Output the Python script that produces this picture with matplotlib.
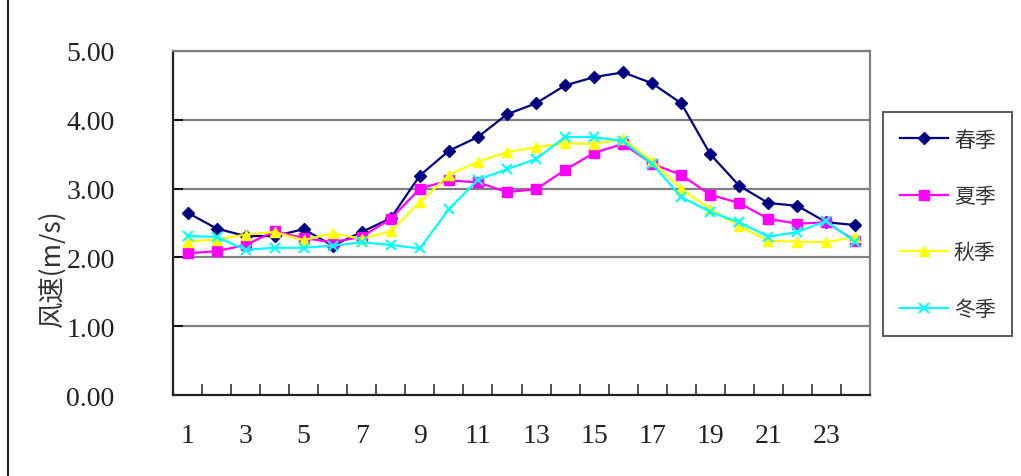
import matplotlib
matplotlib.use("Agg")
import matplotlib.pyplot as plt
import numpy as np
from matplotlib.lines import Line2D

plt.rcParams['font.family'] = ['Liberation Serif', 'Noto Sans CJK SC', 'DejaVu Sans']

# hourly wind speed (m/s) by season
hours = list(range(1, 25))
spring = [2.65, 2.42, 2.31, 2.31, 2.41, 2.17, 2.37, 2.57, 3.19, 3.55, 3.75, 4.08, 4.24, 4.50, 4.62, 4.69,
          4.53, 4.24, 3.50, 3.04, 2.79, 2.75, 2.51, 2.47]
summer = [2.06, 2.09, 2.18, 2.38, 2.28, 2.22, 2.30, 2.56, 3.00, 3.12, 3.09, 2.95, 2.99, 3.27, 3.52, 3.65,
          3.36, 3.20, 2.91, 2.79, 2.56, 2.49, 2.51, 2.24]
autumn = [2.23, 2.26, 2.33, 2.37, 2.25, 2.35, 2.27, 2.38, 2.80, 3.20, 3.39, 3.53, 3.60, 3.66, 3.65, 3.72,
          3.40, 3.00, 2.70, 2.46, 2.24, 2.23, 2.22, 2.30]
winter = [2.31, 2.30, 2.11, 2.14, 2.14, 2.17, 2.22, 2.18, 2.13, 2.70, 3.13, 3.28, 3.43, 3.75, 3.75, 3.69,
          3.36, 2.88, 2.66, 2.51, 2.30, 2.37, 2.53, 2.22]
labels = ["春季", "夏季", "秋季", "冬季"]
yticks = [0, 1, 2, 3, 4, 5]

fig = plt.figure(figsize=(10.21, 4.77), dpi=100)
ax = fig.add_axes([173 / 1021, 1 - 396 / 477, 697 / 1021, 344 / 477])

ax.plot(hours, spring, color="#000080", marker="D", markersize=6, lw=1.6, label=labels[0])
ax.plot(hours, summer, color="#FF00FF", marker="s", markersize=7, lw=1.6, label=labels[1])
ax.plot(hours, autumn, color="#FFFF00", marker="^", markersize=7, lw=1.6, label=labels[2])
ax.plot(hours, winter, color="#00FFFF", marker="x", markersize=7, mew=1.5, lw=1.6, label=labels[3])

ax.set_xlim(0.5, 24.5)
ax.set_ylim(0, 5)

# gridlines
for v in yticks[1:]:
    ax.axhline(v, color="#808080", lw=1.6, zorder=0)

ax.set_yticks(yticks)
ax.set_yticklabels([f"{v:.2f}" for v in yticks])
ax.set_xticks(hours[::2])
ax.set_xticklabels([str(h) for h in hours[::2]])
ax.set_xticks(np.arange(0.5, 25, 1), minor=True)
ax.tick_params(axis="x", which="major", length=0, pad=20, labelsize=20, labelcolor="#222222")
ax.tick_params(axis="x", which="minor", direction="in", length=8, width=1.2, color="#333333")
ax.tick_params(axis="y", direction="in", length=7, width=1.2, pad=42, labelsize=20, labelcolor="#222222")

for s in ["left", "bottom"]:
    ax.spines[s].set_color("#222222")
    ax.spines[s].set_linewidth(1.6)
for s in ["top", "right"]:
    ax.spines[s].set_color("#808080")
    ax.spines[s].set_linewidth(1.6)

fig.text(52 / 1021, 1 - 268 / 477, "风速(m/s)", rotation=90, ha="center", va="center",
         fontsize=19, color="#333333", family=["Noto Sans CJK SC", "DejaVu Sans"])

leg = fig.legend(loc="upper left", bbox_to_anchor=(883 / 1021, 1 - 113 / 477), frameon=True,
                 fancybox=False, edgecolor="#222222", prop={"family": "Noto Sans CJK SC", "size": 15},
                 labelspacing=1.65, handlelength=2.3, handletextpad=0.3, borderpad=0.8, borderaxespad=0)
leg.get_frame().set_linewidth(1.3)
for t in leg.get_texts():
    t.set_color("#333333")

# stray border line at the left edge of the scan
fig.add_artist(Line2D([8 / 1021, 8 / 1021], [0, 1], color="#222222", lw=1.5))

fig.savefig("out.png", dpi=100)
